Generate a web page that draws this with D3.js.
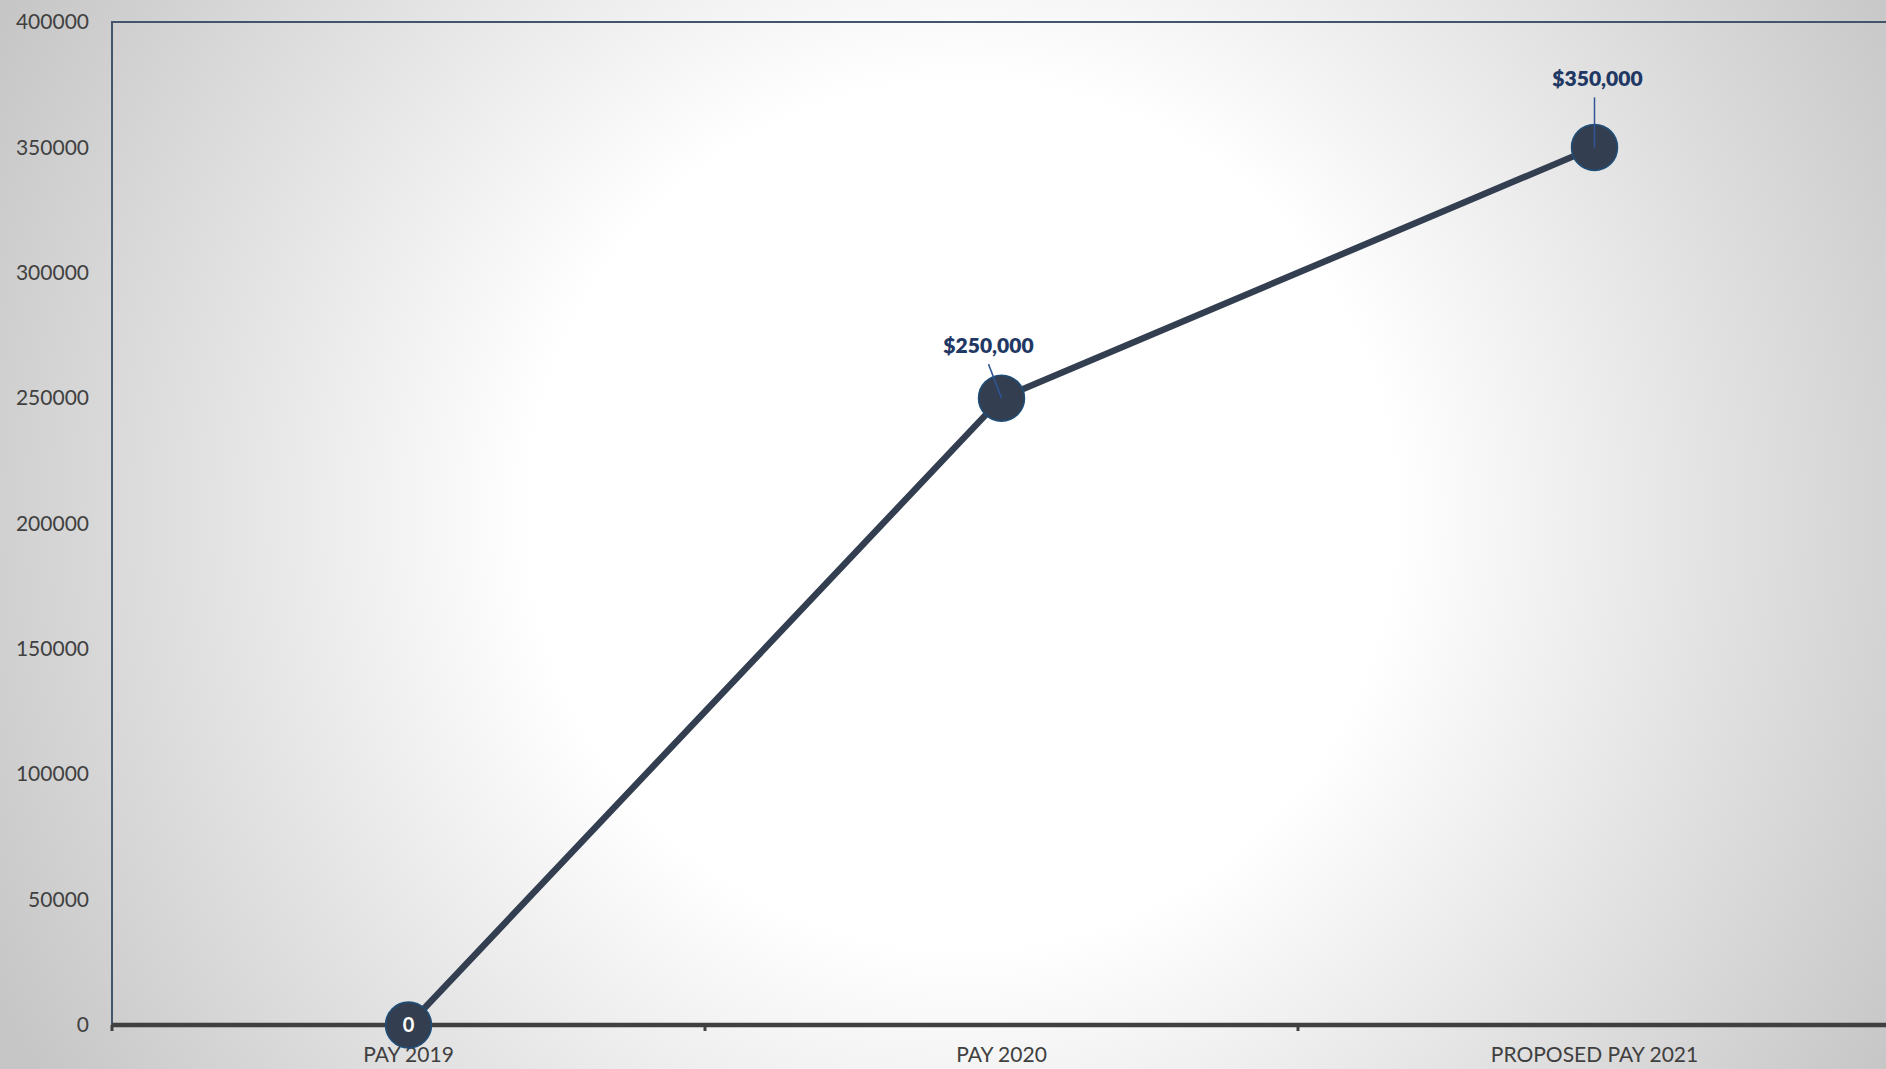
<!DOCTYPE html>
<html>
<head>
<meta charset="utf-8">
<script src="https://cdn.jsdelivr.net/npm/d3@7"></script>
<style>
  html, body { margin: 0; padding: 0; overflow: hidden; }
  svg { display: block; }
</style>
</head>
<body>
<svg id="chart" width="1886" height="1069"></svg>
<script>
// Pay by year
const categories = ["PAY 2019", "PAY 2020", "PROPOSED PAY 2021"];
const payValues = [0, 250000, 350000];
const valueLabels = ["0", "$250,000", "$350,000"];
const yTicks = [0, 50000, 100000, 150000, 200000, 250000, 300000, 350000, 400000];

const W = 1886, H = 1069;
const margin = { left: 112, top: 22, right: -5, bottom: 44 };
const plotRight = W - margin.right;
const plotBottom = H - margin.bottom;

const svg = d3.select("#chart");
const font = "Lato, 'Open Sans', sans-serif";

// radial background
const defs = svg.append("defs");
const grad = defs.append("radialGradient")
  .attr("id", "bg").attr("gradientUnits", "userSpaceOnUse")
  .attr("cx", 962).attr("cy", 515).attr("r", 1080);
grad.append("stop").attr("offset", "0%").attr("stop-color", "#ffffff");
grad.append("stop").attr("offset", "40%").attr("stop-color", "#ffffff");
grad.append("stop").attr("offset", "70%").attr("stop-color", "#e2e2e2");
grad.append("stop").attr("offset", "100%").attr("stop-color", "#c6c6c6");
svg.append("rect").attr("width", W).attr("height", H).attr("fill", "url(#bg)");

const x = d3.scaleBand().domain(categories).range([margin.left, plotRight]).paddingInner(0).paddingOuter(0);
const y = d3.scaleLinear().domain([0, 400000]).range([plotBottom, margin.top]);

// plot-area border (top and left)
svg.append("path")
  .attr("d", `M${margin.left},${plotBottom} V${margin.top} H${W}`)
  .attr("fill", "none").attr("stroke", "#44546a").attr("stroke-width", 2);

// y axis labels
const yAxis = d3.axisLeft(y).tickValues(yTicks).tickSize(0).tickPadding(23).tickFormat(d3.format("d"));
const gy = svg.append("g").attr("transform", `translate(${margin.left},0)`).call(yAxis);
gy.select(".domain").remove();
gy.selectAll("text").attr("font-family", font).attr("font-size", 21).attr("fill", "#404040");

// x axis
const xAxis = d3.axisBottom(x).tickSize(0).tickPadding(22);
const gx = svg.append("g").attr("transform", `translate(0,${plotBottom})`).call(xAxis);
gx.select(".domain").remove();
gx.selectAll("text").attr("font-family", font).attr("font-size", 21).attr("fill", "#404040");

svg.append("line")
  .attr("x1", margin.left).attr("x2", W)
  .attr("y1", plotBottom).attr("y2", plotBottom)
  .attr("stroke", "#404040").attr("stroke-width", 4.5);

// category boundary tick marks
const boundaries = categories.map(c => x(c));
svg.selectAll(".cat-tick").data(boundaries).enter().append("line")
  .attr("x1", d => d).attr("x2", d => d)
  .attr("y1", plotBottom).attr("y2", plotBottom + 6)
  .attr("stroke", "#404040").attr("stroke-width", 3);

const px = c => x(c) + x.bandwidth() / 2;
const points = categories.map((c, i) => ({ c, v: payValues[i], label: valueLabels[i] }));

// series line
svg.append("path")
  .datum(points)
  .attr("d", d3.line().x(d => px(d.c)).y(d => y(d.v)))
  .attr("fill", "none").attr("stroke", "#333f50").attr("stroke-width", 6.5)
  .attr("stroke-linejoin", "round");

// markers
svg.selectAll(".marker").data(points).enter().append("circle")
  .attr("cx", d => px(d.c)).attr("cy", d => y(d.v)).attr("r", 23)
  .attr("fill", "#333f50").attr("stroke", "#1f4e79").attr("stroke-width", 1.5);

// label inside the zero marker
svg.selectAll(".inner-label").data(points.filter(d => d.v === 0)).enter().append("text")
  .attr("x", d => px(d.c)).attr("y", d => y(d.v)).attr("dy", "0.36em")
  .attr("text-anchor", "middle").attr("font-family", font).attr("font-weight", 700)
  .attr("font-size", 20).attr("fill", "#ffffff").text(d => d.label);

// callout labels above the other markers
const callouts = points.filter(d => d.v !== 0);
const labelOffsets = [{ dx: -13, lx: -13, ly: 45 }, { dx: 3, lx: 0, ly: 61 }];
callouts.forEach((d, i) => {
  const o = labelOffsets[i];
  const cx = px(d.c), cy = y(d.v);
  svg.append("line")
    .attr("x1", cx + o.lx).attr("y1", cy - o.ly + 11)
    .attr("x2", cx).attr("y2", cy)
    .attr("stroke", "#2f5597").attr("stroke-width", 1.5);
  svg.append("text")
    .attr("x", cx + o.dx).attr("y", cy - o.ly)
    .attr("text-anchor", "middle").attr("font-family", font).attr("font-weight", 800)
    .attr("font-size", 21).attr("fill", "#1f3864").text(d.label);
});
</script>
</body>
</html>
